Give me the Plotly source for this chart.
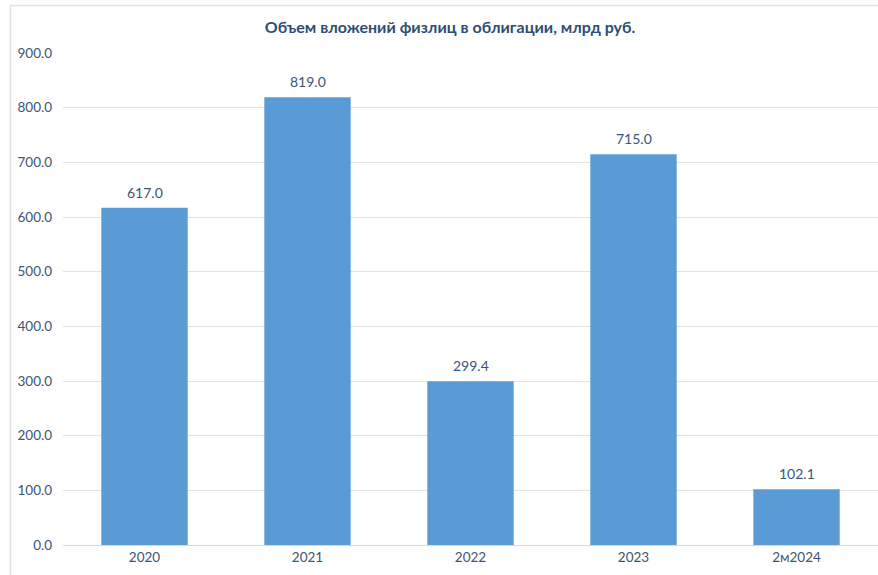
import plotly.graph_objects as go

# Bond investments by individuals, bln RUB
categories = ["2020", "2021", "2022", "2023", "2м2024"]
values = [617.0, 819.0, 299.4, 715.0, 102.1]
y_ticks = [0, 100, 200, 300, 400, 500, 600, 700, 800, 900]

bar_color = "#5B9BD5"
text_color = "#3B5575"
font_family = "Lato, 'Open Sans', sans-serif"

fig = go.Figure(
    go.Bar(
        x=categories,
        y=values,
        marker=dict(color=bar_color, line=dict(width=0)),
        width=0.53,
        hoverinfo="x+y",
    )
)

# value labels above each bar (category axis positions are indices)
for idx, val in enumerate(values):
    fig.add_annotation(
        x=idx,
        y=val,
        text=f"{val:.1f}",
        showarrow=False,
        yanchor="bottom",
        yshift=5,
        font=dict(family=font_family, size=14, color=text_color),
    )

fig.update_layout(
    width=878,
    height=575,
    margin=dict(l=63, r=0, t=53, b=30),
    paper_bgcolor="white",
    plot_bgcolor="white",
    showlegend=False,
    title=dict(
        text="<b>Объем вложений физлиц в облигации, млрд руб.</b>",
        x=450 / 878,
        xanchor="center",
        y=1 - 27 / 575,
        yanchor="middle",
        font=dict(family=font_family, size=16, color="#2F4E73"),
    ),
    font=dict(family=font_family, size=13, color=text_color),
    xaxis=dict(
        type="category",
        categoryorder="array",
        categoryarray=categories,
        showgrid=False,
        showline=True,
        linecolor="#D9D9D9",
        linewidth=1,
        ticks="",
        tickfont=dict(size=13.5, color=text_color),
    ),
    yaxis=dict(
        range=[0, 900],
        tickvals=y_ticks,
        tickformat=".1f",
        showgrid=True,
        gridcolor="#E3E3E3",
        gridwidth=1,
        zeroline=False,
        showline=False,
        ticks="",
        ticklabelstandoff=10,
        tickfont=dict(size=13.5, color=text_color),
    ),
    shapes=[
        dict(
            type="rect",
            xref="paper",
            yref="paper",
            x0=(10.5 - 63) / 815,
            x1=1.3,
            y0=-0.3,
            y1=(545 - 5.5) / 492,
            line=dict(color="#E0E0E0", width=1.5),
            fillcolor="rgba(0,0,0,0)",
            layer="below",
        )
    ],
)

fig.write_html("out.html")
